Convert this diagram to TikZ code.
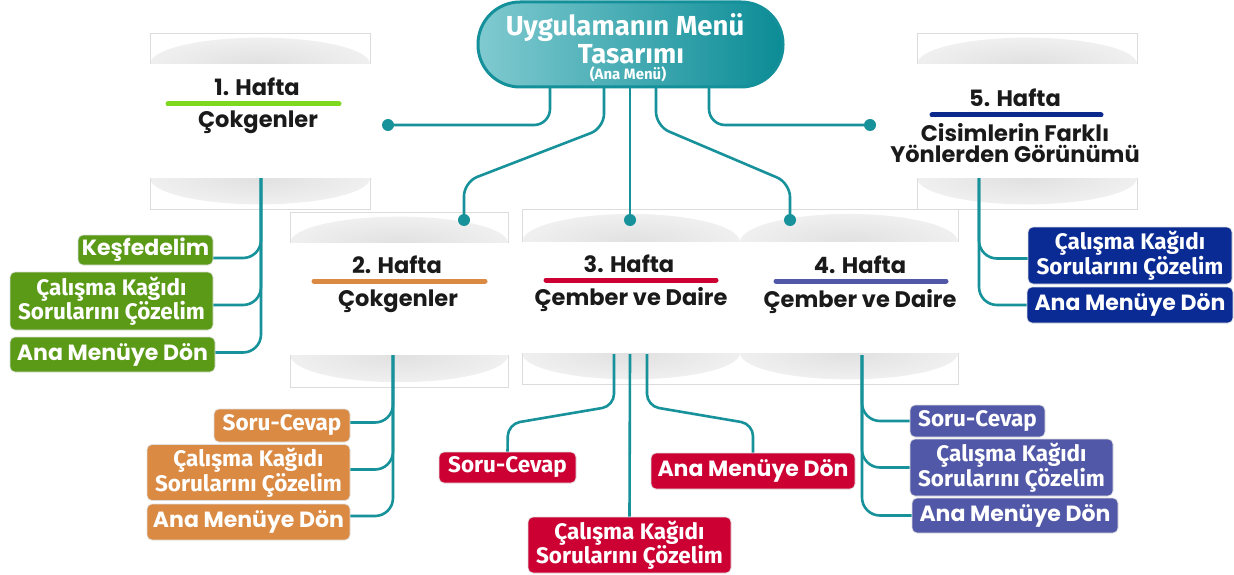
\documentclass[tikz,border=0pt]{standalone}
\usepackage{fontspec}
\setmainfont{Poppins}
\newfontfamily\myr{Fira Sans}
\usetikzlibrary{calc}
\definecolor{teal1}{HTML}{17929B}
\definecolor{gbox}{HTML}{5A9A16}
\definecolor{obox}{HTML}{DA8A43}
\definecolor{rbox}{HTML}{CC0033}
\definecolor{pbox}{HTML}{5258A8}
\definecolor{nbox}{HTML}{0A2A94}
\definecolor{gbar}{HTML}{7ED81F}
\definecolor{nbar}{HTML}{0B2A8C}
\definecolor{pillL}{HTML}{80CAD0}
\definecolor{pillR}{HTML}{0B8C96}
\definecolor{pillB}{HTML}{13909A}
\definecolor{cardln}{HTML}{DCDCDC}
\definecolor{ink}{HTML}{1A1A1A}
\pgfdeclareradialshading{cardshadow}{\pgfpoint{0bp}{0bp}}{color(0bp)=(black!12); color(50bp)=(white)}
\newcommand{\shadowstrip}[5]{%
  \begin{scope}
    \clip (#1,#3) rectangle (#2,#4);
    \shade[shading=cardshadow] ({(#1+#2)/2},#5) ellipse ({(#2-#1)*0.5} and {(#4-#3)*0.85});
  \end{scope}}
\newcommand{\cardframe}[6]{%
  \draw[cardln, line width=0.8pt] (#1,#3) rectangle (#2,#6);
  \fill[white] ({#1-1},#4) rectangle ({#2+1},#5);}
\tikzset{
  conn/.style={draw=teal1, line width=2.6pt},
  dotn/.style={circle, fill=teal1, minimum size=12pt, inner sep=0pt},
  wbox/.style={rounded corners=5pt, draw=black!12, line width=0.7pt, text=white, inner sep=0pt, align=center},
  fm/.style={font=\bfseries\fontsize{22}{24}\selectfont},
  fp/.style={font=\myr\bfseries\fontsize{22.5}{24.5}\selectfont},
  ttl/.style={font=\bfseries\fontsize{22.5}{24}\selectfont, text=ink, inner sep=0pt, anchor=base},
  wbar/.style={line width=5pt, line cap=round},
  pill/.style={draw=pillB, line width=3pt, rounded corners=42pt, left color=pillL, right color=pillR, minimum width=305pt, minimum height=85pt, inner sep=0pt},
  pt/.style={text=white, inner sep=0pt, anchor=base}
}
\begin{document}
\begin{tikzpicture}[x=1pt,y=-1pt]
\useasboundingbox (0,0) rectangle (1234,575);
\fill[white] (0,0) rectangle (1234,575);

% cards
\shadowstrip{150}{370}{33}{64}{64}
\shadowstrip{150}{370}{178}{209}{178}
\cardframe{150}{370}{33}{64}{178}{209}
\shadowstrip{917}{1137}{33}{64}{64}
\shadowstrip{917}{1137}{178}{209}{178}
\cardframe{917}{1137}{33}{64}{178}{209}
\shadowstrip{290}{508}{212}{243}{243}
\shadowstrip{290}{508}{355}{387}{355}
\cardframe{290}{508}{212}{243}{355}{387}
\shadowstrip{522}{740}{209}{242}{242}
\shadowstrip{740}{958}{209}{242}{242}
\shadowstrip{522}{740}{353}{384}{353}
\shadowstrip{740}{958}{353}{384}{353}
\cardframe{522}{958}{209}{242}{353}{384}

% main pill
\node[pill] (main) at (630.5,44.5) {};
\node[pt, font=\myr\bfseries\fontsize{27.5}{28}\selectfont] (mt1) at (625,36) {Uygulamanın Menü};
\node[pt, font=\myr\bfseries\fontsize{27.5}{28}\selectfont] (mt2) at (631,64) {Tasarımı};
\node[pt, font=\myr\bfseries\fontsize{15}{16}\selectfont] (mt3) at (628,80) {(Ana Menü)};

% titles
\node[ttl] (h1) at (257,96) {1. Hafta};
\draw[wbar, gbar] (168,104) -- (339,104);
\node[ttl] (c1) at (258,128) {Çokgenler};
\node[ttl] (h2) at (397,273) {2. Hafta};
\draw[wbar, obox] (314,281) -- (485,281);
\node[ttl] (c2) at (398,306) {Çokgenler};
\node[ttl] (h3) at (629,272) {3. Hafta};
\draw[wbar, rbox] (546,280) -- (716,280);
\node[ttl] (c3) at (631,305) {Çember ve Daire};
\node[ttl] (h4) at (860,273) {4. Hafta};
\draw[wbar, pbox] (776,281) -- (946,281);
\node[ttl] (c4) at (860,307) {Çember ve Daire};
\node[ttl] (h5) at (1015,107) {5. Hafta};
\draw[wbar, nbar] (932,115) -- (1101,115);
\node[ttl] (c5a) at (1015,142) {Cisimlerin Farklı};
\node[ttl] (c5b) at (1015,163) {Yönlerden Görünümü};

% dots
\node[dotn] (d1) at (388,125) {};
\node[dotn] (d2) at (464,220) {};
\node[dotn] (d3) at (630,220) {};
\node[dotn] (d4) at (790,220) {};
\node[dotn] (d5) at (870,125) {};

% boxes
\node[wbox, fm, fill=gbox, minimum width=135pt, minimum height=30pt] (k1) at (145.5,250) {Keşfedelim};
\node[wbox, fp, fill=gbox, minimum width=203pt, minimum height=58pt] (k2) at (111.5,301) {Çalışma Kağıdı\\Sorularını Çözelim};
\node[wbox, fm, fill=gbox, minimum width=205pt, minimum height=35pt] (k3) at (112.5,354.5) {Ana Menüye Dön};

\node[wbox, fp, fill=obox, minimum width=136pt, minimum height=33pt] (o1) at (282,425.5) {Soru-Cevap};
\node[wbox, fp, fill=obox, minimum width=203pt, minimum height=56pt] (o2) at (248.5,472.5) {Çalışma Kağıdı\\Sorularını Çözelim};
\node[wbox, fm, fill=obox, minimum width=203pt, minimum height=36pt] (o3) at (248.5,522) {Ana Menüye Dön};

\node[wbox, fp, fill=rbox, minimum width=137pt, minimum height=31pt] (r1) at (507.5,467.5) {Soru-Cevap};
\node[wbox, fp, fill=rbox, minimum width=203pt, minimum height=56pt] (r2) at (629.5,545) {Çalışma Kağıdı\\Sorularını Çözelim};
\node[wbox, fm, fill=rbox, minimum width=204pt, minimum height=36pt] (r3) at (753,471) {Ana Menüye Dön};

\node[wbox, fp, fill=pbox, minimum width=135pt, minimum height=32pt] (p1) at (977.5,421) {Soru-Cevap};
\node[wbox, fp, fill=pbox, minimum width=203pt, minimum height=57pt] (p2) at (1011.5,467.5) {Çalışma Kağıdı\\Sorularını Çözelim};
\node[wbox, fm, fill=pbox, minimum width=206pt, minimum height=35pt] (p3) at (1015,515.5) {Ana Menüye Dön};

\node[wbox, fp, fill=nbox, minimum width=204pt, minimum height=57pt] (n1) at (1130,255.5) {Çalışma Kağıdı\\Sorularını Çözelim};
\node[wbox, fm, fill=nbox, minimum width=206pt, minimum height=36pt] (n2) at (1130,305) {Ana Menüye Dön};

% connector anchor points
\coordinate (m1) at (550,87);
\coordinate (m2) at (604,87);
\coordinate (m3) at (630,87);
\coordinate (m4) at (656,87);
\coordinate (m5) at (709,87);
\coordinate (w1s) at (261,178);
\coordinate (w5s) at (979,178);
\coordinate (w2s) at (393,355);
\coordinate (w4s) at (862,355);
\coordinate (w3a) at (614,354);
\coordinate (w3b) at (630,354);
\coordinate (w3c) at (647,354);

% connectors from main
\draw[conn, rounded corners=16pt] (m1) |- (d1.center);
\draw[conn, rounded corners=16pt] (m5) |- (d5.center);
\draw[conn] (m3) -- (d3.center);
\draw[conn, rounded corners=14pt] (m2) -- (604,128) -- (464,182) -- (d2.center);
\draw[conn, rounded corners=14pt] (m4) -- (656,126) -- (790,183) -- (d4.center);

% week 1
\draw[conn, rounded corners=18pt] (w1s) |- ($(k1.east)+(0,8)$);
\draw[conn, rounded corners=18pt] (w1s) |- ($(k2.east)+(0,4)$);
\draw[conn, rounded corners=18pt] (w1s) |- ($(k3.east)+(0,-2)$);
% week 2
\draw[conn, rounded corners=18pt] (w2s) |- ($(o1.east)+(0,-3)$);
\draw[conn, rounded corners=18pt] (w2s) |- ($(o2.east)+(0,-3)$);
\draw[conn, rounded corners=18pt] (w2s) |- ($(o3.east)+(0,-6)$);
% week 4
\draw[conn, rounded corners=18pt] (w4s) |- (p1.west);
\draw[conn, rounded corners=18pt] (w4s) |- (p2.west);
\draw[conn, rounded corners=18pt] (w4s) |- (p3.west);
% week 5
\draw[conn, rounded corners=18pt] (w5s) |- ($(n1.west)+(0,3)$);
\draw[conn, rounded corners=18pt] (w5s) |- (n2.west);
% week 3
\draw[conn, rounded corners=12pt] (w3a) -- (614,406) -- (508,424) -- (r1.north);
\draw[conn] (w3b) -- (r2.north);
\draw[conn, rounded corners=12pt] (w3c) -- (647,406) -- (753,424) -- (r3.north);
\end{tikzpicture}
\end{document}
